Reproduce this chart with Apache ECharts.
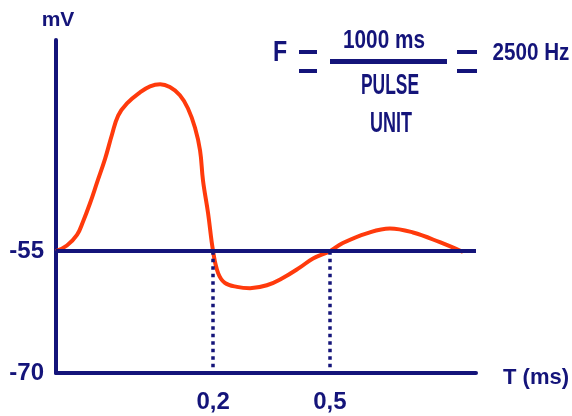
<!DOCTYPE html>
<html>
<head>
<meta charset="utf-8">
<script src="https://cdn.jsdelivr.net/npm/echarts@6/dist/echarts.min.js"></script>
<style>
html,body{margin:0;padding:0;background:#fff;}
#c{width:572px;height:416px;}
</style>
</head>
<body>
<div id="c"></div>
<script>
// Schematic time position (arbitrary units 0..100 along the T axis) and membrane potential (mV)
const curveX = [0, 2.6, 5.0, 6.4, 8.1, 9.8, 11.7, 13.3, 14.8, 16.9, 20.0, 22.4, 24.8, 27.1, 29.5, 31.4, 33.1, 34.3, 35.0, 36.2, 37.4, 38.6, 40.2, 43.1, 46.2, 50.2, 54.0, 58.1, 61.2, 65.2, 68.3, 74.0, 79.5, 85.0, 91.4, 96.9];
const curveY = [-55, -54.3, -53.0, -51.4, -49.1, -46.5, -43.6, -40.7, -38.3, -36.8, -35.45, -34.7, -34.45, -34.8, -35.8, -37.4, -39.8, -42.6, -46.3, -50.3, -55, -57.7, -58.9, -59.4, -59.55, -59.2, -58.3, -57.0, -55.9, -55, -54.0, -52.8, -52.2, -52.7, -53.9, -55.1];
const thresholdMV = -55;
const yTickValues = [-55, -70];
const xTickValues = [37.4, 65.2];
const xTickLabels = ['0,2', '0,5'];

const NAVY = '#14147a';
const RED = '#ff3a0c';
const FAM = '"Liberation Sans"';
const WEIGHT = 'bold';

const chart = echarts.init(document.getElementById('c'));
const curve = curveX.map((x, i) => [x, curveY[i]]);

function label(text, x, y, size, sx) {
  return { type: 'text', x: x, y: y, scaleX: sx, scaleY: 1,
    style: { text: text, fill: NAVY, font: 'bold ' + size + 'px ' + FAM, align: 'center', verticalAlign: 'middle' } };
}

chart.setOption({
  animation: false,
  backgroundColor: '#fff',
  grid: { left: 56, top: 40, right: 96, bottom: 43, outerBoundsMode: 'none', containLabel: false },
  xAxis: {
    type: 'value', min: 0, max: 100,
    name: 'T (ms)', nameLocation: 'end', nameGap: 27,
    nameTextStyle: { color: NAVY, fontFamily: FAM, fontSize: 22, fontWeight: WEIGHT, verticalAlign: 'top', lineHeight: 10 },
    axisLine: { show: true, lineStyle: { color: NAVY, width: 4 } },
    axisTick: { show: false },
    splitLine: { show: false },
    axisLabel: {
      customValues: xTickValues,
      formatter: v => xTickLabels[xTickValues.indexOf(v)] || '',
      color: NAVY, fontFamily: FAM, fontSize: 24, fontWeight: WEIGHT, margin: 17
    }
  },
  yAxis: {
    type: 'value', min: -70, max: -29,
    name: 'mV', nameLocation: 'end', nameGap: 9,
    nameTextStyle: { color: NAVY, fontFamily: FAM, fontSize: 21, fontWeight: WEIGHT, align: 'center', padding: [0, 0, 0, 4] },
    axisLine: { show: true, lineStyle: { color: NAVY, width: 4 } },
    axisTick: { show: false },
    splitLine: { show: false },
    axisLabel: {
      customValues: yTickValues,
      color: NAVY, fontFamily: FAM, fontSize: 24, fontWeight: WEIGHT, margin: 12
    }
  },
  series: [
    {
      type: 'line',
      data: curve,
      smooth: 0.4,
      showSymbol: false,
      lineStyle: { color: RED, width: 4 },
      z: 3,
      markLine: {
        silent: true,
        symbol: ['none', 'none'],
        label: { show: false },
        data: [
          [{ coord: [0, thresholdMV] }, { coord: [100, thresholdMV] }]
        ],
        lineStyle: { color: NAVY, width: 4, type: 'solid' }
      }
    },
    {
      type: 'line',
      data: [],
      markLine: {
        silent: true,
        symbol: ['none', 'none'],
        label: { show: false },
        data: xTickValues.map(x => [{ coord: [x, thresholdMV] }, { coord: [x, -70] }]),
        lineStyle: { color: NAVY, width: 3.5, type: [3.5, 4] }
      }
    }
  ],
  graphic: [
    label('F', 280, 53, 29, 0.8),
    { type: 'rect', shape: { x: 299, y: 50, width: 18, height: 4 }, style: { fill: NAVY } },
    { type: 'rect', shape: { x: 299, y: 69, width: 18, height: 4 }, style: { fill: NAVY } },
    label('1000 ms', 384, 41, 25, 0.83),
    { type: 'rect', shape: { x: 330, y: 59, width: 117, height: 5 }, style: { fill: NAVY } },
    label('PULSE', 390, 86, 29, 0.6),
    label('UNIT', 391, 124, 29, 0.62),
    { type: 'rect', shape: { x: 457, y: 50, width: 20, height: 4 }, style: { fill: NAVY } },
    { type: 'rect', shape: { x: 457, y: 69, width: 20, height: 4 }, style: { fill: NAVY } },
    label('2500 Hz', 531, 53.5, 24, 0.86)
  ]
});
</script>
</body>
</html>
